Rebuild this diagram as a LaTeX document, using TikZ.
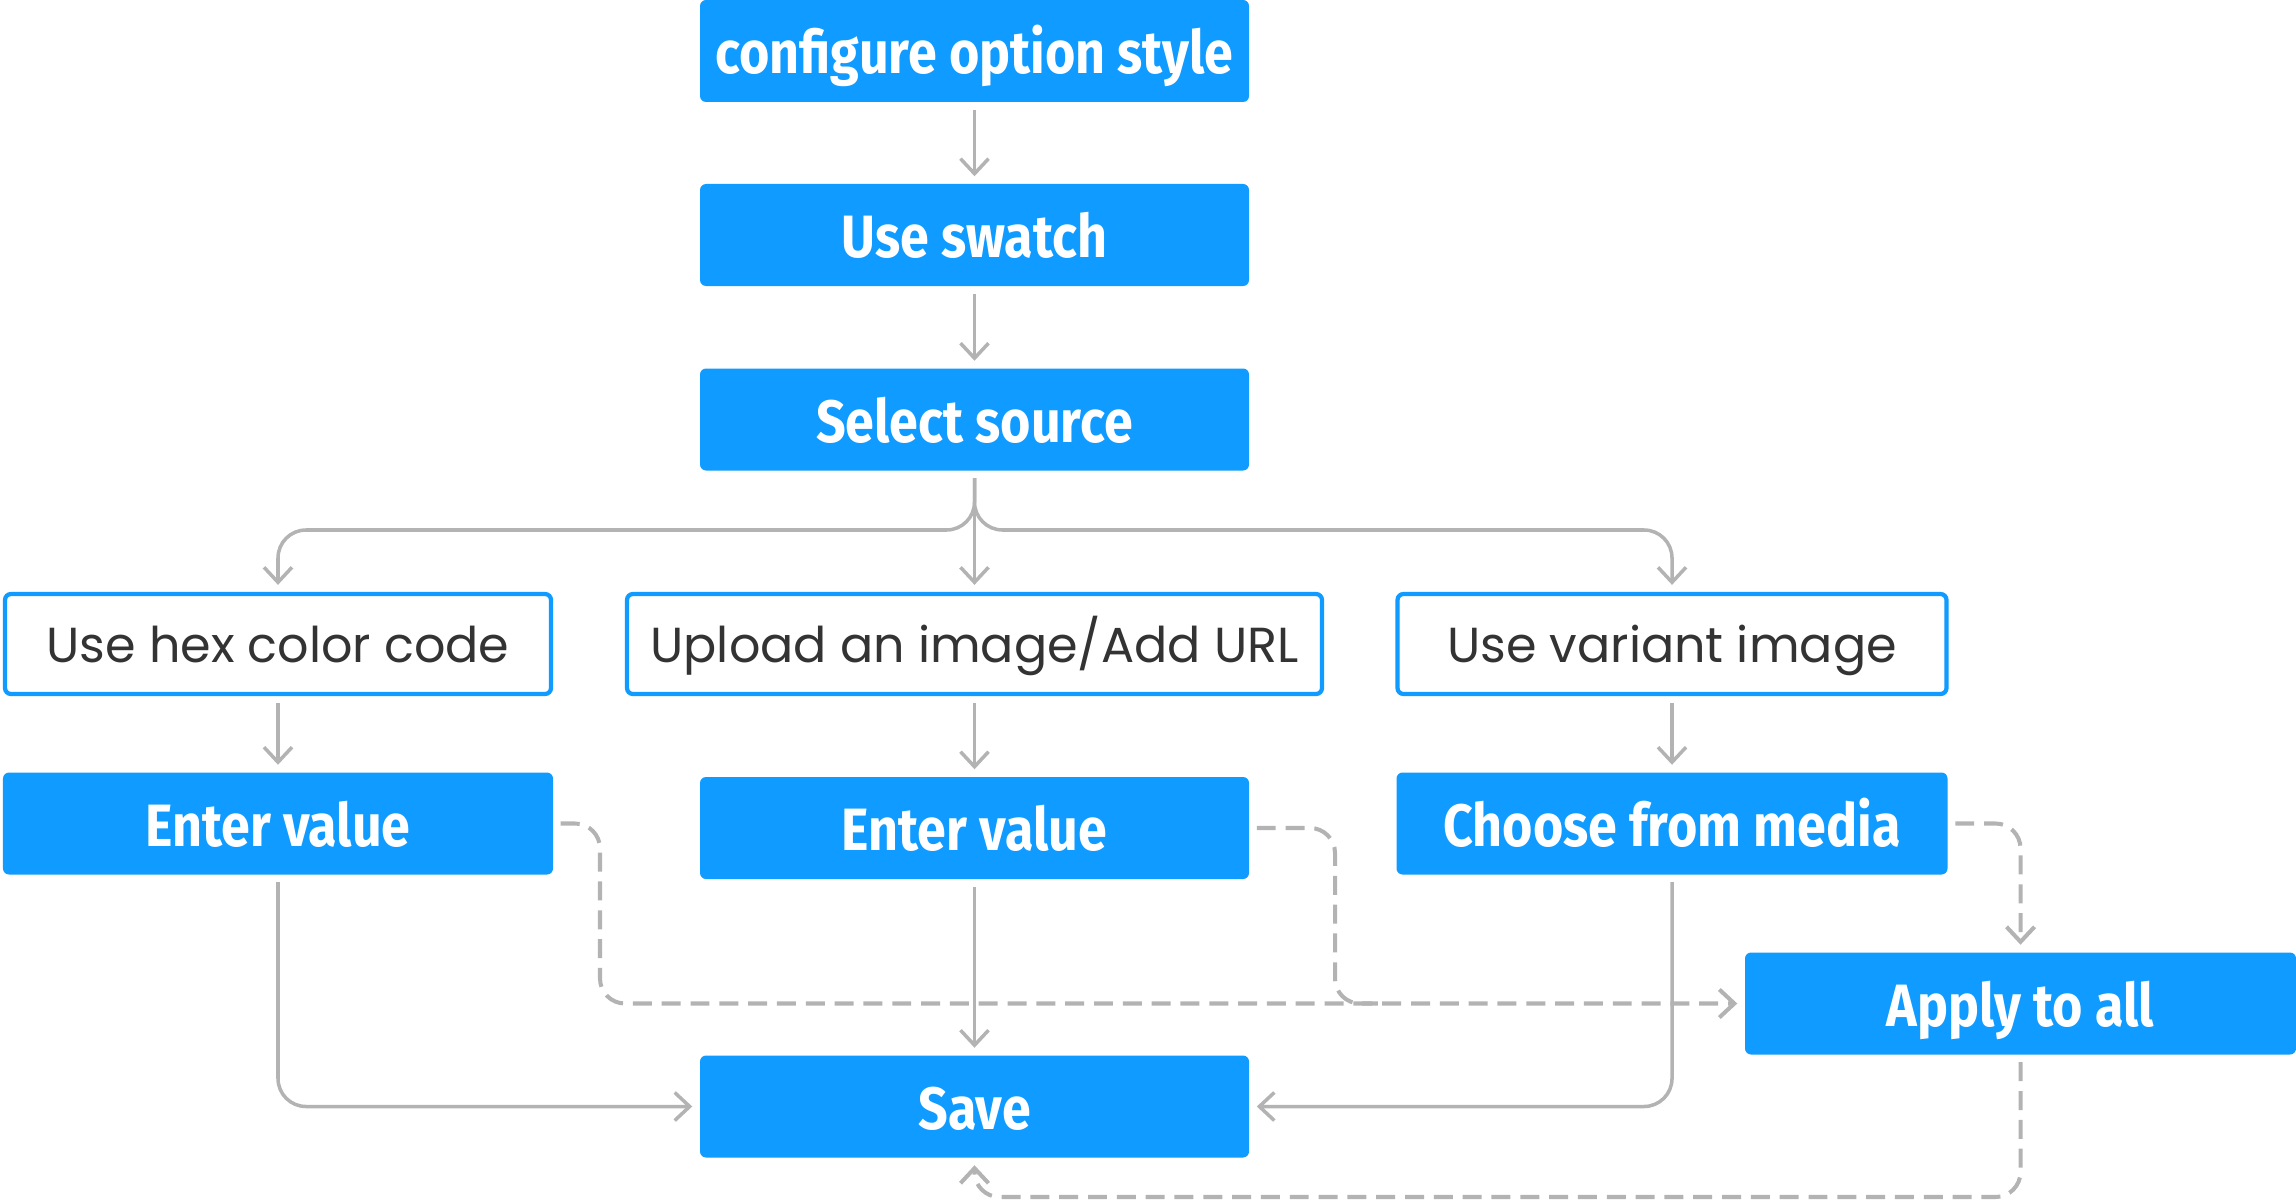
\documentclass[tikz,border=0pt]{standalone}
\usepackage{fontspec}
\setmainfont{Noto Sans}
\newfontfamily\boxfont[FakeStretch=0.87]{Fira Sans}
\newfontfamily\popfont{Poppins}
\usetikzlibrary{arrows.meta}
\definecolor{swatchblue}{HTML}{0F9BFF}
\definecolor{linegray}{HTML}{B3B3B3}
\definecolor{textgray}{HTML}{333333}

\begin{document}
\begin{tikzpicture}[
  bluebox/.style={fill=swatchblue, rounded corners=0.06cm, minimum width=5.49cm, minimum height=1.02cm, inner sep=0pt, text height=0.55cm, text depth=0.1cm, text=white, font=\boxfont\bfseries\fontsize{17}{20}\selectfont},
  whitebox/.style={draw=swatchblue, line width=1.2pt, fill=white, rounded corners=0.06cm, minimum height=1.0cm, inner sep=0pt, text height=0.46cm, text depth=0.1cm, text=textgray, font=\popfont\fontsize{14}{17}\selectfont},
  conn/.style={draw=linegray, line width=1pt, -{Straight Barb[length=0.15cm, width=0.28cm]}, rounded corners=0.28cm, shorten <=2pt, shorten >=2pt},
  dconn/.style={conn, line width=1.15pt, dash pattern=on 5.4pt off 2.8pt, rounded corners=0.25cm}
]
\useasboundingbox (0,0) rectangle (22.96,12);

% top column
\node[bluebox] (conf) at (9.745,11.49) {configure option style};
\node[bluebox] (swatch) at (9.745,9.65) {Use swatch};
\node[bluebox] (source) at (9.745,7.805) {Select source};

% the three sources
\node[whitebox, minimum width=5.46cm] (hex) at (2.78,5.56) {Use hex color code};
\node[whitebox, minimum width=6.95cm] (upload) at (9.745,5.56) {Upload an image/Add URL};
\node[whitebox, minimum width=5.49cm] (variant) at (16.72,5.56) {Use variant image};

\node[bluebox, minimum width=5.5cm] (enterhex) at (2.78,3.765) {Enter value};
\node[bluebox] (enterurl) at (9.745,3.72) {Enter value};
\node[bluebox, minimum width=5.51cm] (media) at (16.72,3.765) {Choose from media};
\node[bluebox, minimum width=5.51cm] (apply) at (20.205,1.965) {Apply to all};
\node[bluebox] (save) at (9.745,0.935) {Save};

\coordinate (fork) at (9.745,6.70);
\coordinate (bendhex) at (6.0,0);
\coordinate (bendurl) at (13.35,0);
\coordinate (bottom) at (0,0.03);

\draw[conn] (conf) -- (swatch);
\draw[conn] (swatch) -- (source);
\draw[conn] (source.south) -- (fork) -| (hex.north);
\draw[conn] (source.south) -- (fork) -| (variant.north);
\draw[conn] (source) -- (upload);
\draw[conn] (hex) -- (enterhex);
\draw[conn] (upload) -- (enterurl);
\draw[conn] (variant) -- (media);
\draw[conn] (enterhex.south) |- (save.west);
\draw[conn] (media.south) |- (save.east);
\draw[conn] (enterurl) -- (save);

% dashed links
\draw[dconn] (enterhex.east) -| (bendhex |- apply.west) -- (apply.west);
\draw[dconn, -] (enterurl.east) -| (bendurl |- apply.west) -- ++(0.5,0);
\draw[dconn] (media.east) -| (apply.north);
\draw[dconn] (apply.south) -- (apply.south |- bottom) -| (save.south);

\end{tikzpicture}
\end{document}
